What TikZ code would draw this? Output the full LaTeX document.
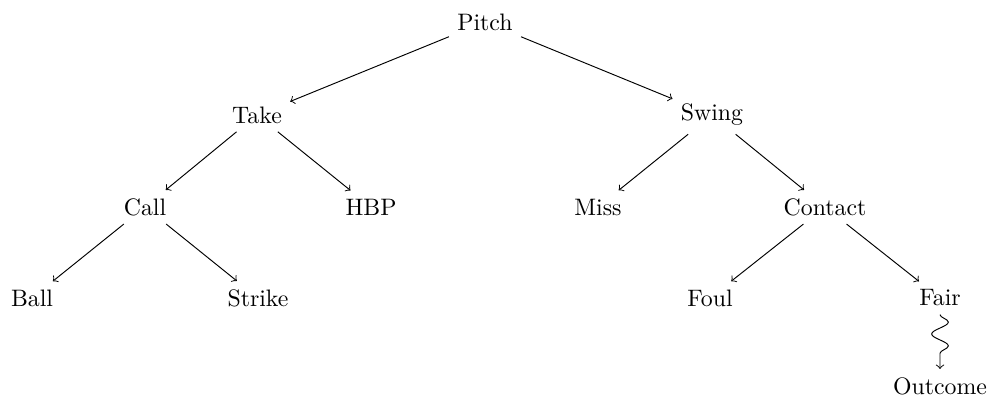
\documentclass[tikz,border=0pt]{standalone}
\usetikzlibrary{decorations.pathmorphing}
\begin{document}
\begin{tikzpicture}[x=0.42pt,y=-0.42pt,
  lbl/.style={font=\fontsize{10}{12}\selectfont},
  edge/.style={->},
  wavy/.style={->,decorate,decoration={snake,amplitude=3.5pt,segment length=10pt,post length=1.5mm}}]
\useasboundingbox (0,0) rectangle (987,396);
\node[lbl] (pitch) at (485,22) {Pitch};
\node[lbl] (take) at (257,115) {Take};
\node[lbl] (swing) at (712,115) {Swing};
\node[lbl] (call) at (145,207) {Call};
\node[lbl] (hbp) at (371,207) {HBP};
\node[lbl] (miss) at (598,207) {Miss};
\node[lbl] (contact) at (825,207) {Contact};
\node[lbl] (ball) at (32,298) {Ball};
\node[lbl] (strike) at (258,298) {Strike};
\node[lbl] (foul) at (710,298) {Foul};
\node[lbl] (fair) at (940,298) {Fair};
\node[lbl] (outcome) at (940,386) {Outcome};
\draw[edge] (pitch) -- (take);
\draw[edge] (pitch) -- (swing);
\draw[edge] (take) -- (call);
\draw[edge] (take) -- (hbp);
\draw[edge] (swing) -- (miss);
\draw[edge] (swing) -- (contact);
\draw[edge] (call) -- (ball);
\draw[edge] (call) -- (strike);
\draw[edge] (contact) -- (foul);
\draw[edge] (contact) -- (fair);
\draw[wavy] (fair) -- (outcome);
\end{tikzpicture}
\end{document}
